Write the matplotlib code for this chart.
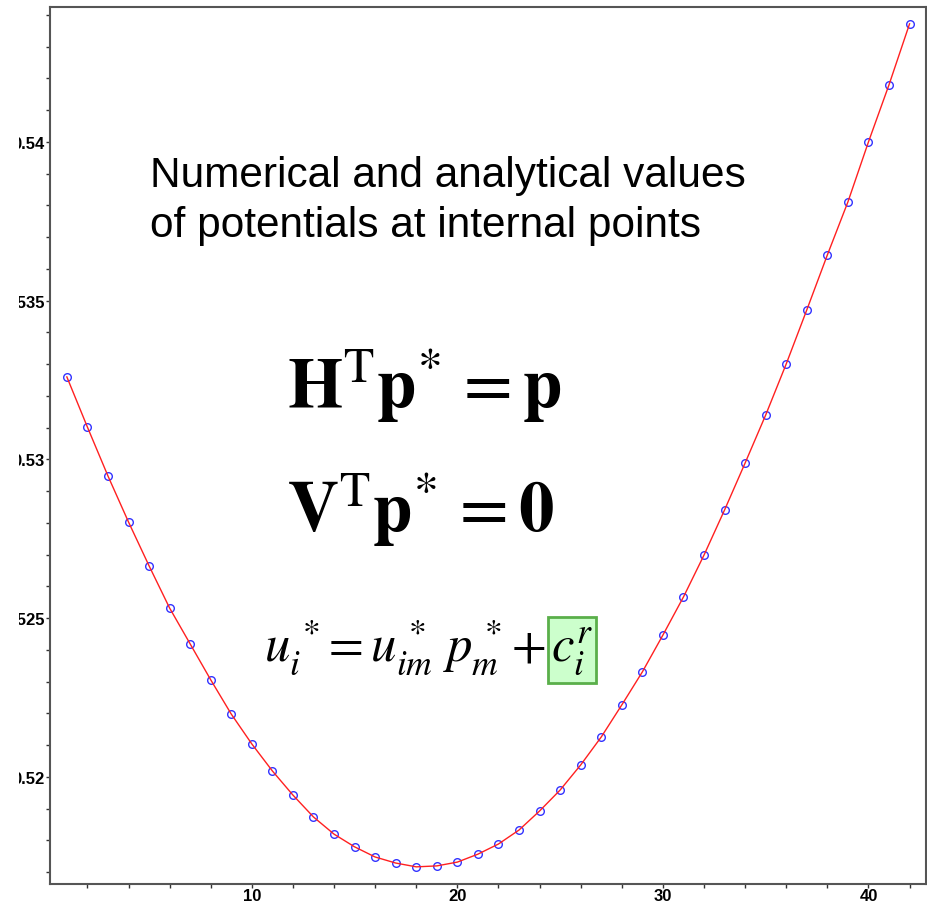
import numpy as np
import matplotlib
matplotlib.use("Agg")
import matplotlib.pyplot as plt
from matplotlib.patches import Rectangle
from matplotlib.transforms import Bbox, TransformedBbox, IdentityTransform
from matplotlib.ticker import FixedLocator, MultipleLocator

plt.rcParams['mathtext.fontset'] = 'stix'
plt.rcParams['font.family'] = ['Liberation Sans', 'DejaVu Sans']

# internal point index
points = list(range(1, 43))

# potentials from the boundary element solution
numerical = [0.53260, 0.53102, 0.52948, 0.52803, 0.52665, 0.52532, 0.52419,
             0.52306, 0.52198, 0.52104, 0.52019, 0.51943, 0.51874, 0.51820,
             0.51780, 0.51748, 0.51729, 0.51717, 0.51720, 0.51732, 0.51757,
             0.51789, 0.51833, 0.51893, 0.51959, 0.52038, 0.52126, 0.52227,
             0.52331, 0.52447, 0.52567, 0.52699, 0.52841, 0.52989, 0.53140,
             0.53301, 0.53471, 0.53644, 0.53811, 0.54000, 0.54180, 0.54372]

# exact solution at the same points
analytical = [0.53260, 0.53102, 0.52948, 0.52803, 0.52665, 0.52532, 0.52419,
              0.52306, 0.52198, 0.52104, 0.52019, 0.51943, 0.51874, 0.51820,
              0.51780, 0.51748, 0.51729, 0.51717, 0.51720, 0.51732, 0.51757,
              0.51789, 0.51833, 0.51893, 0.51959, 0.52038, 0.52126, 0.52227,
              0.52331, 0.52447, 0.52567, 0.52699, 0.52841, 0.52989, 0.53140,
              0.53301, 0.53471, 0.53644, 0.53811, 0.54000, 0.54180, 0.54372]

x_ticks = [10, 20, 30, 40]
y_ticks = [0.52, 0.525, 0.53, 0.535, 0.54]
y_tick_labels = ["0.52", "0.525", "0.53", "0.535", "0.54"]

fig = plt.figure(figsize=(9.27, 9.03), dpi=100)
ax = fig.add_axes([50 / 927, 18 / 903, 876 / 927, 877 / 903])

ax.plot(points, numerical, 'o', ms=5.5, mfc='none', mec='#3333ff', mew=1.0, zorder=2)
ax.plot(points, analytical, '-', color='#ff2020', lw=1.0, zorder=3)

ax.set_xlim(0.18, 42.8)
ax.set_ylim(0.51663, 0.54425)

ax.xaxis.set_major_locator(FixedLocator(x_ticks))
ax.xaxis.set_minor_locator(MultipleLocator(2))
ax.set_yticks(y_ticks)
ax.set_yticklabels(y_tick_labels)
ax.yaxis.set_minor_locator(MultipleLocator(0.001))

for side in ['left', 'bottom', 'top', 'right']:
    ax.spines[side].set_color('#555555')
    ax.spines[side].set_linewidth(1.5)

ax.tick_params(which='both', direction='out', length=3, width=1, color='#333333')
ax.tick_params(axis='both', labelsize=12, pad=1)
ax.tick_params(axis='x', pad=0)
for lab in ax.get_xticklabels() + ax.get_yticklabels():
    lab.set_fontweight('bold')

# title text inside the plot area
fig.text(150 / 927, 1 - 187 / 903, "Numerical and analytical values",
         fontsize=30.5, va='baseline', ha='left')
fig.text(150 / 927, 1 - 237 / 903, "of potentials at internal points",
         fontsize=30.5, va='baseline', ha='left')

# boundary element equations
fig.text(287 / 927, 1 - 408 / 903,
         r"$\mathbf{H}^{\mathrm{T}}\mathbf{p}^{*}\,=\mathbf{p}$",
         fontsize=51, va='baseline', ha='left')
fig.text(287 / 927, 1 - 532 / 903,
         r"$\mathbf{V}^{\mathrm{T}}\mathbf{p}^{*}\,=\mathbf{0}$",
         fontsize=51, va='baseline', ha='left')
eq = fig.text(264 / 927, 1 - 661 / 903,
              r"$u_i^{\,*}\!=u_{im}^{\,*}\ p_m^{\,*}\!+$",
              fontsize=36.5, va='baseline', ha='left')

# boxed term right after the plus sign
fig.canvas.draw()
ext = eq.get_window_extent()
ct = fig.text((ext.x1 + 6) / 927, 1 - 661 / 903, r"$c_i^{r}$",
              fontsize=36.5, va='baseline', ha='left', zorder=5)
fig.canvas.draw()
cext = ct.get_window_extent()
fig.patches.append(Rectangle((cext.x0 - 3, cext.y0 - 7), cext.width + 5, cext.height + 14,
                             transform=IdentityTransform(), facecolor='#ccffcc',
                             edgecolor='#5aaf4a', lw=2, zorder=4))

# the y tick labels run off the left edge
fig.canvas.draw()
clip = TransformedBbox(Bbox([[19 / 927, 0], [1, 1]]), fig.transFigure)
for lab in ax.get_yticklabels():
    lab.set_clip_on(True)
    lab.set_clip_box(clip)

fig.savefig("out.png", dpi=100)
